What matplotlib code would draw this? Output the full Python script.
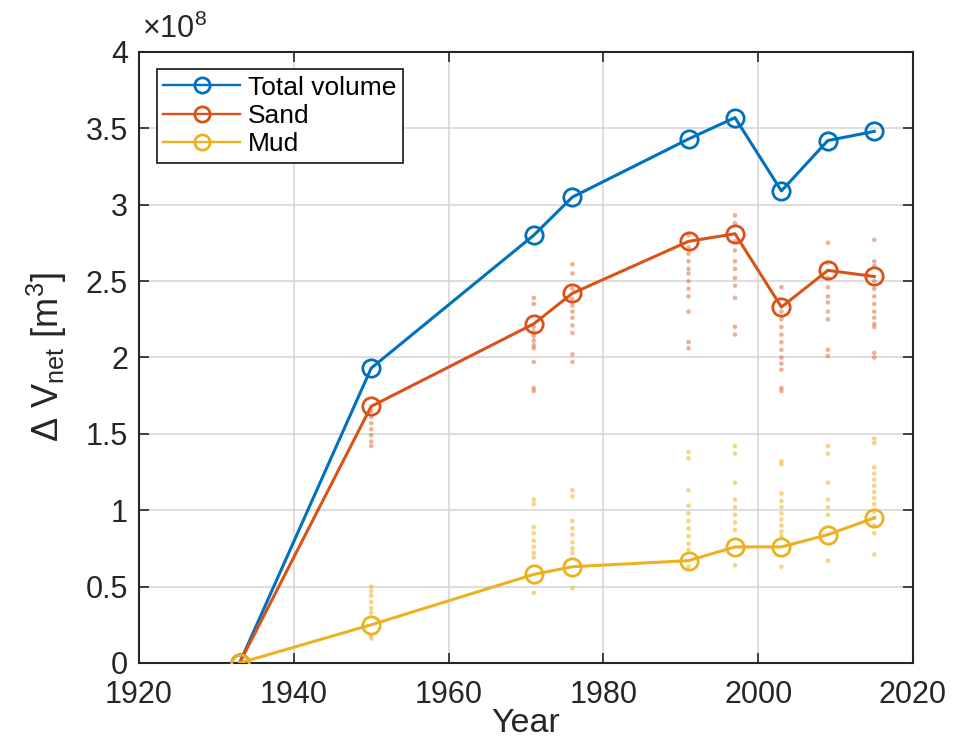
import matplotlib
matplotlib.use('Agg')
import matplotlib.pyplot as plt
import numpy as np

plt.rcParams['font.family'] = ['Liberation Sans', 'DejaVu Sans']
plt.rcParams['mathtext.fontset'] = 'custom'
plt.rcParams['mathtext.rm'] = 'Liberation Sans'
plt.rcParams['mathtext.it'] = 'Liberation Sans:italic'

# survey years and net volume change (units of 1e8 m^3)
years = [1933, 1950, 1971, 1976, 1991, 1997, 2003, 2009, 2015]
total = [0, 1.93, 2.80, 3.05, 3.43, 3.57, 3.09, 3.42, 3.48]
sand = [0, 1.68, 2.22, 2.42, 2.76, 2.81, 2.33, 2.57, 2.53]
mud = [0, 0.25, 0.58, 0.63, 0.67, 0.76, 0.76, 0.84, 0.95]

# individual estimates behind the sand / mud means (one list per year, from 1950)
sand_runs = [
    [1.65, 1.61, 1.57, 1.53, 1.49, 1.45, 1.42],
    [2.39, 2.35, 2.20, 2.17, 2.14, 2.11, 2.08, 2.06, 1.97, 1.80, 1.78],
    [2.61, 2.55, 2.45, 2.38, 2.34, 2.30, 2.26, 2.21, 2.16, 2.02, 1.97],
    [2.80, 2.72, 2.68, 2.63, 2.58, 2.55, 2.50, 2.45, 2.40, 2.30, 2.10, 2.06],
    [2.93, 2.88, 2.76, 2.70, 2.63, 2.58, 2.52, 2.47, 2.39, 2.20, 2.15],
    [2.46, 2.30, 2.25, 2.20, 2.15, 2.10, 2.05, 2.00, 1.96, 1.92, 1.80, 1.78],
    [2.75, 2.62, 2.52, 2.46, 2.40, 2.36, 2.30, 2.25, 2.05, 2.01],
    [2.77, 2.63, 2.60, 2.50, 2.45, 2.40, 2.35, 2.30, 2.26, 2.22, 2.20, 2.03, 2.00],
]
mud_runs = [
    [0.50, 0.47, 0.44, 0.40, 0.36, 0.33, 0.18, 0.16],
    [1.07, 1.04, 0.89, 0.85, 0.80, 0.76, 0.72, 0.69, 0.46],
    [1.13, 1.09, 0.93, 0.88, 0.84, 0.79, 0.75, 0.72, 0.49],
    [1.38, 1.34, 1.13, 1.03, 0.98, 0.93, 0.88, 0.83, 0.78, 0.74, 0.63],
    [1.42, 1.37, 1.18, 1.07, 1.02, 0.97, 0.92, 0.87, 0.64],
    [1.32, 1.30, 1.11, 1.06, 1.02, 0.98, 0.94, 0.90, 0.86, 0.83, 0.63],
    [1.42, 1.37, 1.18, 1.07, 1.02, 0.97, 0.67],
    [1.47, 1.44, 1.28, 1.24, 1.20, 1.16, 1.12, 1.08, 1.04, 0.99, 0.95, 0.90, 0.85, 0.71],
]

c_total = '#0072BD'
c_sand = '#D95319'
c_mud = '#EDB120'
dark = '#262626'

fig = plt.figure(figsize=(9.56, 7.42), dpi=100)
ax = fig.add_axes([0.1454, 0.1065, 0.8096, 0.8235])

# scatter of the individual estimates
for yr, vals in zip(years[1:], sand_runs):
    ax.scatter([yr] * len(vals), vals, s=11, color=c_sand, alpha=0.45,
               edgecolors='none', zorder=2)
for yr, vals in zip(years[1:], mud_runs):
    ax.scatter([yr] * len(vals), vals, s=11, color=c_mud, alpha=0.55,
               edgecolors='none', zorder=2)

style = dict(marker='o', markersize=12.5, markerfacecolor='none',
             markeredgewidth=2.0, linewidth=2.2, zorder=3)
ax.plot(years, total, color=c_total, label='Total volume', **style)
ax.plot(years, sand, color=c_sand, label='Sand', **style)
ax.plot(years, mud, color=c_mud, label='Mud', **style)

ax.set_xlim(1920, 2020)
ax.set_ylim(0, 4)
ax.set_xticks(np.arange(1920, 2021, 20))
ax.set_yticks(np.arange(0, 4.01, 0.5))
ax.set_yticklabels(['%g' % v for v in np.arange(0, 4.01, 0.5)])

ax.grid(True, color='#d4d4d4', linewidth=1.1)
ax.set_axisbelow(True)
ax.tick_params(direction='in', length=7, width=1.2, colors=dark,
               labelsize=22, top=True, right=True)
ax.tick_params(axis='x', pad=12.5)
ax.tick_params(axis='y', pad=8)
for sp in ax.spines.values():
    sp.set_color(dark)
    sp.set_linewidth(1.5)

ax.set_xlabel('Year', fontsize=24.5, color=dark, labelpad=-2)
ax.set_ylabel(r'$\Delta$ V$_{\rm net}$ [m$^3$]', fontsize=26, color=dark,
              labelpad=12)
ax.text(0.004, 1.012, r'$\times$10$^8$', transform=ax.transAxes,
        fontsize=22, color=dark, ha='left', va='bottom')

leg = ax.legend(loc='upper left', bbox_to_anchor=(0.023, 0.972), fontsize=19,
                frameon=True, fancybox=False, edgecolor=dark, framealpha=1,
                handlelength=2.9, handletextpad=0.3, labelspacing=0.16,
                borderpad=0.25, borderaxespad=0)
leg.get_frame().set_linewidth(1.3)
for h in leg.get_lines():
    h.set_linewidth(1.7)
    h.set_markersize(11)

fig.savefig('out.png', dpi=100)
